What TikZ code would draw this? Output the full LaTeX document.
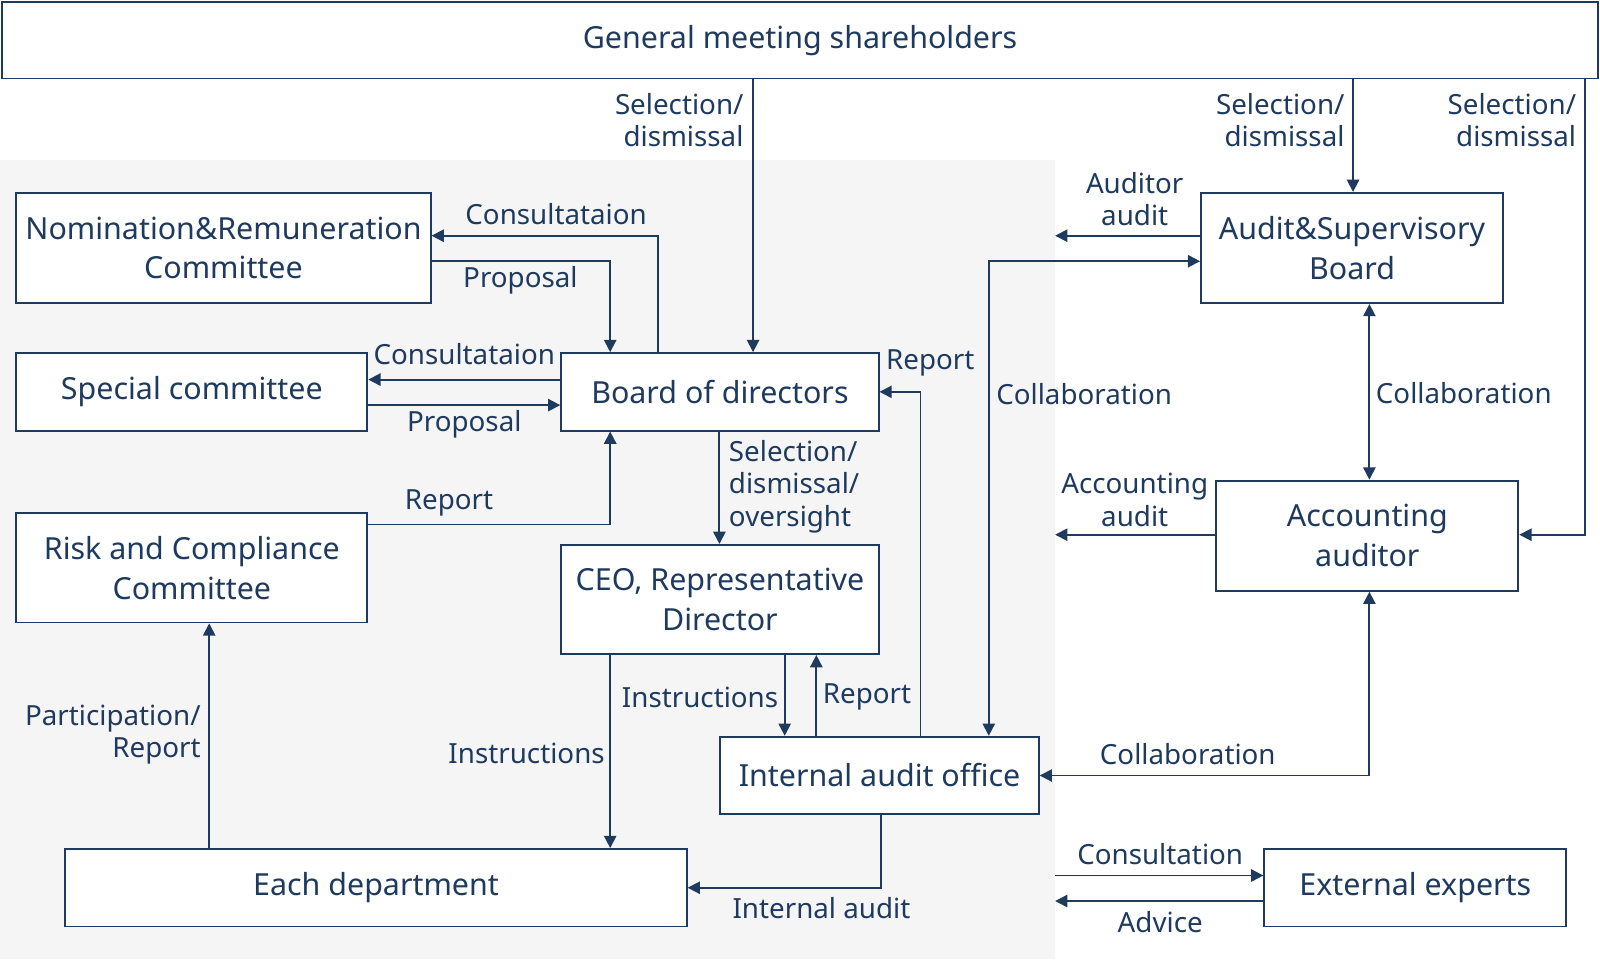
\documentclass[tikz,border=0pt]{standalone}
\usepackage{fontspec}
\setmainfont{Noto Sans}
\usetikzlibrary{arrows.meta}
\definecolor{nv}{HTML}{1E3A5F}
\begin{document}
\begin{tikzpicture}[x=0.5pt,y=-0.5pt,
  box/.style={draw=nv,line width=0.9pt,fill=white,text=nv,font=\fontsize{14.9}{19.5}\selectfont,align=center,inner sep=0},
  lab/.style={text=nv,font=\fontsize{13.6}{15.8}\selectfont,inner sep=0},
  ar/.style={draw=nv,line width=0.9pt,-{Triangle[length=6pt,width=6pt]}},
  dar/.style={draw=nv,line width=0.9pt,{Triangle[length=6pt,width=6pt]}-{Triangle[length=6pt,width=6pt]}}]
\useasboundingbox (0,0) rectangle (1568,941);
\fill[black!4] (0,157) rectangle (1034,940);
\node[box,minimum width=1564*0.5pt,minimum height=75*0.5pt] (gm) at (784,39.5) {General meeting shareholders};
\node[box,minimum width=406*0.5pt,minimum height=108*0.5pt] (nom) at (219,243) {Nomination\&Remuneration\\Committee};
\node[box,minimum width=344*0.5pt,minimum height=76*0.5pt] (sp) at (188,384) {Special committee};
\node[box,minimum width=311*0.5pt,minimum height=76*0.5pt] (bd) at (705.5,384) {Board of directors};
\node[box,minimum width=344*0.5pt,minimum height=107*0.5pt] (rc) at (188,556.5) {Risk and Compliance\\Committee};
\node[box,minimum width=311*0.5pt,minimum height=107*0.5pt] (ceo) at (705.5,587.5) {CEO, Representative\\Director};
\node[box,minimum width=312*0.5pt,minimum height=76*0.5pt] (ia) at (862,760) {Internal audit office};
\node[box,minimum width=609*0.5pt,minimum height=76*0.5pt] (ed) at (368.5,870) {Each department};
\node[box,minimum width=296*0.5pt,minimum height=108*0.5pt] (as) at (1325,243) {Audit\&Supervisory\\Board};
\node[box,minimum width=296*0.5pt,minimum height=108*0.5pt] (ac) at (1340,525) {Accounting\\auditor};
\node[box,minimum width=296*0.5pt,minimum height=76*0.5pt] (ex) at (1387,870) {External experts};
\coordinate (l1) at (1034,231);
\coordinate (l2) at (1034,524);
\coordinate (l3) at (1034,858);
\coordinate (l4) at (1034,883);
% shareholders
\draw[ar] (gm.south -| 738,0) -- (bd.north -| 738,0);
\node[lab,align=right,anchor=east] at (729,118) {Selection/\\dismissal};
\draw[ar] (gm.south -| 1326,0) -- (as.north -| 1326,0);
\node[lab,align=right,anchor=east] at (1318,118) {Selection/\\dismissal};
\draw[ar] (gm.south -| 1553,0) |- (ac.east |- 0,524);
\node[lab,align=right,anchor=east] at (1545,118) {Selection/\\dismissal};
% committees
\draw[ar] (bd.north -| 645,0) |- (nom.east |- 0,231);
\node[lab] at (545,210) {Consultataion};
\draw[ar] (nom.east |- 0,256) -| (bd.north -| 598,0);
\node[lab] at (510,275) {Proposal};
\draw[ar] (bd.west |- 0,372) -- (sp.east |- 0,372);
\node[lab] at (455,347) {Consultataion};
\draw[ar] (sp.east |- 0,397) -- (bd.west |- 0,397);
\node[lab] at (455,416) {Proposal};
\draw[ar] (rc.east |- 0,514) -| (bd.south -| 598,0);
\node[lab] at (440,493) {Report};
\draw[ar] (bd.south -| 705,0) -- (ceo.north -| 705,0);
\node[lab,align=left,anchor=west] at (714,477) {Selection/\\dismissal/\\oversight};
\draw[ar] (ceo.south -| 598,0) -- (ed.north -| 598,0);
\node[lab,anchor=east] at (593,738) {Instructions};
\draw[ar] (ceo.south -| 769,0) -- (ia.north -| 769,0);
\node[lab,anchor=east] at (763,683) {Instructions};
\draw[ar] (ia.north -| 800,0) -- (ceo.south -| 800,0);
\node[lab,anchor=west] at (806,683) {Report};
\draw[ar] (ia.north -| 902,0) |- (bd.east |- 0,384);
\node[lab,anchor=west] at (868,356) {Report};
\draw[ar] (ia.south -| 863,0) |- (ed.east);
\node[lab] at (805,890) {Internal audit};
\draw[ar] (ed.north -| 205,0) -- (rc.south -| 205,0);
\node[lab,align=right,anchor=east] at (197,720) {Participation/\\Report};
% right side
\draw[ar] (as.west |- l1) -- (l1);
\node[lab,align=center] at (1112,195) {Auditor\\audit};
\draw[dar] (ia.north -| 969,0) |- (as.west |- 0,256);
\node[lab,anchor=west] at (976,386) {Collaboration};
\draw[dar] (as.south -| 1342,0) -- (ac.north -| 1342,0);
\node[lab,anchor=west] at (1348,385) {Collaboration};
\draw[ar] (ac.west |- l2) -- (l2);
\node[lab,align=center] at (1112,490) {Accounting\\audit};
\draw[dar] (ac.south -| 1342,0) |- (ia.east);
\node[lab] at (1164,739) {Collaboration};
\draw[ar] (l3) -- (ex.west |- l3);
\node[lab] at (1137,837) {Consultation};
\draw[ar] (ex.west |- l4) -- (l4);
\node[lab] at (1137,904) {Advice};
\end{tikzpicture}
\end{document}
